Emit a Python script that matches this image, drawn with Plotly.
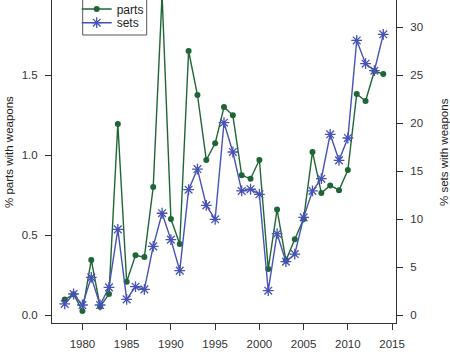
import plotly.graph_objects as go

years = list(range(1978, 2015))
parts = [0.097, 0.13, 0.025, 0.344, 0.052, 0.131, 1.194, 0.208, 0.373, 0.362, 0.80,
         2.0, 0.60, 0.444, 1.65, 1.375, 0.969, 1.073, 1.30, 1.248, 0.873, 0.852,
         0.969, 0.2875, 0.66, 0.34, 0.473, 0.60, 1.019, 0.7625, 0.81, 0.78, 0.906,
         1.381, 1.3375, 1.525, 1.506]
sets = [1.15, 2.19, 1.04, 3.92, 1.04, 2.88, 8.92, 1.63, 2.95, 2.67, 7.15,
        10.6, 7.85, 4.62, 13.05, 15.2, 11.42, 9.97, 20.03, 16.98, 12.92, 13.1,
        12.57, 2.53, 8.47, 5.55, 6.35, 10.17, 12.92, 14.2, 18.82, 16.11, 18.44,
        28.6, 26.18, 25.45, 29.24]
x_ticks = [1980, 1985, 1990, 1995, 2000, 2005, 2010, 2015]
left_ticks = [0.0, 0.5, 1.0, 1.5]
right_ticks = [0, 5, 10, 15, 20, 25, 30]

GREEN = "#1f6636"
BLUE = "#4652b4"
AX = "#333333"
FONT = "Liberation Sans, Arial, sans-serif"

fig = go.Figure()
fig.add_trace(go.Scatter(
    x=years, y=parts, name="parts", mode="lines+markers",
    line=dict(color=GREEN, width=1.4),
    marker=dict(color=GREEN, size=6, symbol="circle"),
    showlegend=True, legend="legend", yaxis="y"))
fig.add_trace(go.Scatter(
    x=years, y=sets, name="sets", mode="lines+markers",
    line=dict(color=BLUE, width=1.4),
    marker=dict(color=BLUE, size=9, symbol="asterisk-open",
                line=dict(color=BLUE, width=1.3)),
    showlegend=True, legend="legend2", yaxis="y2"))

L, R, T, B = 52, 54, 0, 31
W, H = 450, 354
pw = W - L - R
ph = H - T - B

def px_x(p):
    return (p - L) / pw

def px_y(p):
    return (H - B - p) / ph

fig.update_layout(
    width=W, height=H,
    showlegend=True,
    margin=dict(l=L, r=R, t=T, b=B, autoexpand=False),
    paper_bgcolor="white", plot_bgcolor="white",
    font=dict(family=FONT, size=11.5, color=AX),
    xaxis=dict(range=[1976.56, 2015.44], tickvals=x_ticks, showgrid=False,
               zeroline=False, showline=True, linecolor=AX, linewidth=1,
               ticks="outside", ticklen=6, tickcolor=AX, ticklabelstandoff=4),
    yaxis=dict(range=[-0.05, 1.96875], tickvals=left_ticks, tickformat=".1f",
               showgrid=False, zeroline=False, showline=True, linecolor=AX,
               linewidth=1, ticks="outside", ticklen=6, tickcolor=AX,
               ticklabelstandoff=5),
    yaxis2=dict(range=[-0.8333, 32.8125], tickvals=right_ticks, overlaying="y",
                side="right", showgrid=False, zeroline=False, showline=True,
                linecolor=AX, linewidth=1, ticks="outside", ticklen=6,
                tickcolor=AX, ticklabelstandoff=5),
    legend=dict(visible=True, x=px_x(76.7), y=px_y(9), xanchor="left",
                yanchor="middle", bgcolor="rgba(0,0,0,0)", borderwidth=0,
                font=dict(family=FONT, size=12, color="#222")),
    legend2=dict(visible=True, x=px_x(76.7), y=px_y(22.7), xanchor="left",
                 yanchor="middle", bgcolor="rgba(0,0,0,0)", borderwidth=0,
                 font=dict(family=FONT, size=12, color="#222")),
    shapes=[dict(type="rect", xref="paper", yref="paper",
                 x0=px_x(82.7), x1=px_x(146.7), y0=px_y(35), y1=px_y(-30),
                 line=dict(color="#555", width=1), fillcolor="rgba(0,0,0,0)",
                 layer="below")],
    annotations=[
        dict(text="% parts with weapons", xref="paper", yref="paper",
             x=px_x(9), y=px_y(152), textangle=-90, showarrow=False,
             xanchor="center", yanchor="middle",
             font=dict(family=FONT, size=11.5, color="#222")),
        dict(text="% sets with weapons", xref="paper", yref="paper",
             x=px_x(444), y=px_y(152), textangle=-90, showarrow=False,
             xanchor="center", yanchor="middle",
             font=dict(family=FONT, size=11.5, color="#222")),
    ],
)

fig.write_html("out.html")
